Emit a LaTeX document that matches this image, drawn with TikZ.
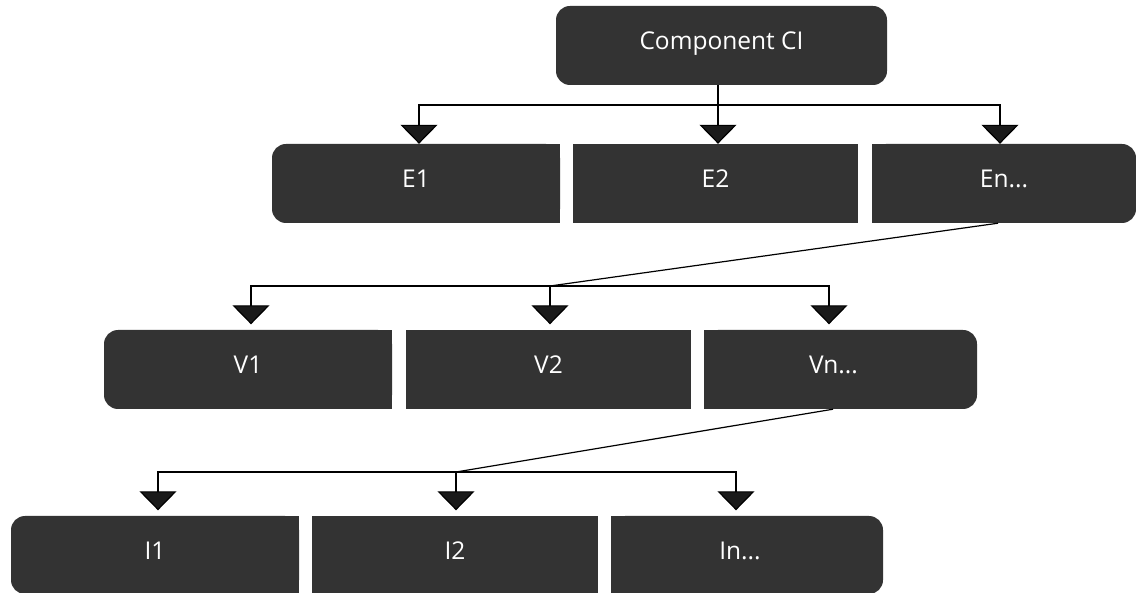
\documentclass[tikz,border=0pt]{standalone}
\usepackage{fontspec}
\setmainfont{Open Sans}
\usetikzlibrary{arrows.meta,backgrounds}

\definecolor{boxgray}{HTML}{333333}
\definecolor{tipgray}{HTML}{1A1A1A}

\tikzset{
  box/.style={fill=boxgray, text=white, inner sep=0pt, minimum height=79pt,
    text height=18pt, text depth=9pt,
    font=\fontsize{24.5}{29}\selectfont},
  conn/.style={draw=black, line width=1.2pt},
  arr/.style={conn, -{Triangle[width=37pt,length=19pt,fill=tipgray]}},
  gap/.style={shorten >=5.5pt},
}

\begin{document}
\begin{tikzpicture}[x=1pt, y=-1pt]
  \useasboundingbox (0,0) rectangle (1136,593);

  % top level
  \node[box, rounded corners=14pt, minimum width=331pt] (top) at (721.5,45.5) {Component CI};

  % first row
  \node[box, rounded corners=14pt, minimum width=288pt] (e1) at (416,183.5) {E1};
  \node[box, minimum width=285pt] (e2) at (715.5,183.5) {E2};
  \node[box, rounded corners=14pt, minimum width=264pt] (en) at (1004,183.5) {En...};

  % second row
  \node[box, rounded corners=14pt, minimum width=288pt] (v1) at (248,369.5) {V1};
  \node[box, minimum width=285pt] (v2) at (548.5,369.5) {V2};
  \node[box, rounded corners=14pt, minimum width=273pt] (vn) at (840.5,369.5) {Vn...\hspace*{14pt}};

  % third row
  \node[box, rounded corners=14pt, minimum width=288pt, minimum height=78pt] (i1) at (155,555) {I1};
  \node[box, minimum width=286pt, minimum height=78pt] (i2) at (455,555) {I2};
  \node[box, rounded corners=14pt, minimum width=272pt, minimum height=78pt] (in) at (747,555) {In...\hspace*{14pt}};

  % square off the inner sides of the end boxes
  \begin{scope}[on background layer]
    \fill[boxgray] (e1.north) rectangle (e1.south east);
    \fill[boxgray] (en.north west) rectangle (en.south);
    \fill[boxgray] (v1.north) rectangle (v1.south east);
    \fill[boxgray] (vn.north west) rectangle (vn.south);
    \fill[boxgray] (i1.north) rectangle (i1.south east);
    \fill[boxgray] (in.north west) rectangle (in.south);
  \end{scope}

  % top -> first row
  \coordinate (j1) at (718,105);
  \draw[conn] (top.south -| j1) -- (j1);
  \draw[arr] (j1) -| ([xshift=3pt]e1.north);
  \draw[arr] (j1) -- (e2.north -| j1);
  \draw[arr] (j1) -| ([xshift=-4pt]en.north);

  % En... -> second row
  \coordinate (j2) at (550,286);
  \draw[conn] ([xshift=-6pt]en.south) -- (j2);
  \draw[arr, gap] (j2) -| ([xshift=3pt]v1.north);
  \draw[arr, gap] (j2) -- (v2.north -| j2);
  \draw[arr, gap] (j2) -| ([xshift=-11.5pt]vn.north);

  % Vn... -> third row
  \coordinate (j3) at (456,472);
  \draw[conn] ([xshift=-7.5pt]vn.south) -- (j3);
  \draw[arr, gap] (j3) -| ([xshift=3pt]i1.north);
  \draw[arr, gap] (j3) -- (i2.north -| j3);
  \draw[arr, gap] (j3) -| ([xshift=-11pt]in.north);
\end{tikzpicture}
\end{document}
